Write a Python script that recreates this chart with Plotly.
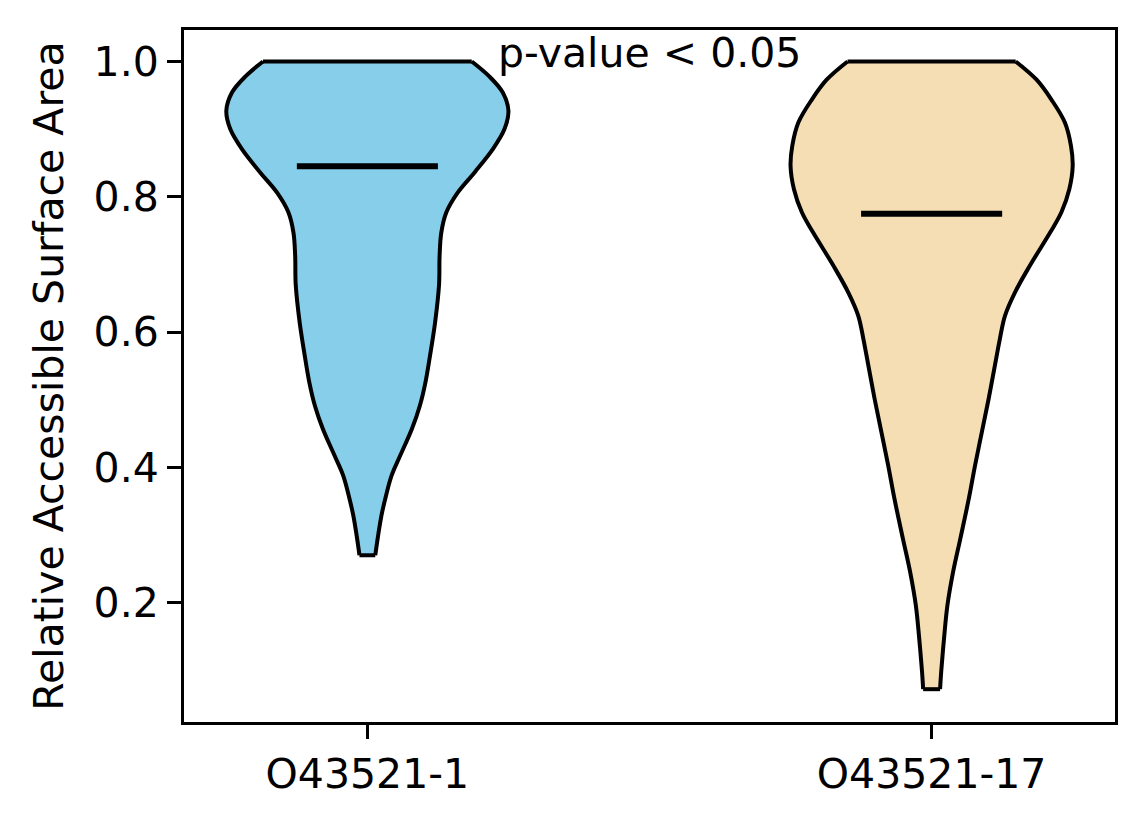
import plotly.graph_objects as go

# 分组与颜色
groups = ["O43521-1", "O43521-17"]
positions = [1, 2]
colors = ["#87CEEB", "#F5DEB3"]
medians = [0.845, 0.775]

# 小提琴轮廓（数值高度 与 半宽，从图上读取）
v1_y = [1.000, 0.978, 0.954, 0.927, 0.900, 0.870, 0.836, 0.806, 0.777, 0.747,
        0.713, 0.670, 0.614, 0.565, 0.526, 0.491, 0.457, 0.417, 0.388,
        0.358, 0.329, 0.299, 0.270]
v1_w = [0.185, 0.216, 0.240, 0.250, 0.243, 0.222, 0.190, 0.160, 0.140, 0.131,
        0.128, 0.127, 0.120, 0.111, 0.103, 0.093, 0.079, 0.058, 0.043,
        0.033, 0.025, 0.019, 0.014]

v2_y = [1.000, 0.973, 0.944, 0.910, 0.875, 0.845, 0.811, 0.777, 0.747, 0.698,
        0.659, 0.624, 0.590, 0.550, 0.501, 0.452, 0.403, 0.354, 0.295, 0.245,
        0.196, 0.147, 0.098, 0.072]
v2_w = [0.149, 0.186, 0.212, 0.236, 0.247, 0.250, 0.244, 0.230, 0.210, 0.174,
        0.148, 0.130, 0.121, 0.112, 0.101, 0.089, 0.077, 0.066, 0.051, 0.038,
        0.028, 0.022, 0.017, 0.015]

y_ticks = [0.2, 0.4, 0.6, 0.8, 1.0]

profiles = [(v1_y, v1_w), (v2_y, v2_w)]
font = dict(family="DejaVu Sans", size=41, color="black")
edge = dict(color="black", width=4, shape="spline", smoothing=1.0)

fig = go.Figure()

for pos, (ys, ws), col, med in zip(positions, profiles, colors, medians):
    # 左边界
    fig.add_trace(go.Scatter(
        x=[pos - w for w in ws], y=ys, mode="lines", line=edge,
        hoverinfo="skip", showlegend=False,
    ))
    # 右边界，填充到左边界
    fig.add_trace(go.Scatter(
        x=[pos + w for w in ws], y=ys, mode="lines", line=edge,
        fill="tonextx", fillcolor=col, hoverinfo="skip", showlegend=False,
    ))
    # 顶部和底部的平直边
    for i in (0, -1):
        fig.add_trace(go.Scatter(
            x=[pos - ws[i], pos + ws[i]], y=[ys[i], ys[i]], mode="lines",
            line=dict(color="black", width=4), hoverinfo="skip", showlegend=False,
        ))
    # 中位数线
    fig.add_trace(go.Scatter(
        x=[pos - 0.125, pos + 0.125], y=[med, med], mode="lines",
        line=dict(color="black", width=6), showlegend=False,
    ))

axis_style = dict(
    showline=True, linecolor="black", linewidth=3, mirror=True,
    ticks="outside", ticklen=14, tickwidth=3, tickcolor="black",
    showgrid=False, zeroline=False, tickfont=font,
)

# 页面body默认有8px边距，这里相应缩小
fig.update_layout(
    width=1136, height=816,
    margin=dict(l=176, r=29, t=22, b=102),
    paper_bgcolor="white", plot_bgcolor="white",
    font=font,
    xaxis=dict(range=[0.675, 2.325], tickvals=positions, ticktext=groups, **axis_style),
    yaxis=dict(range=[0.0235, 1.0465], tickvals=y_ticks, tickformat=".1f",
               title=dict(text="Relative Accessible Surface Area", font=font, standoff=18),
               **axis_style),
    annotations=[dict(x=1.5, y=1.013, xref="x", yref="y", text="p-value < 0.05",
                      showarrow=False, font=font, yanchor="middle")],
)

fig.write_html("out.html")
